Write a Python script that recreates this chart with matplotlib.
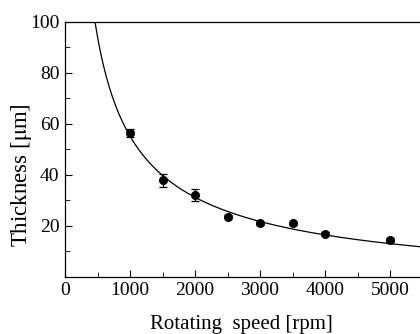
import numpy as np
import matplotlib
matplotlib.use("Agg")
import matplotlib.pyplot as plt
from matplotlib.ticker import MultipleLocator

plt.rcParams['font.family'] = ['Liberation Serif', 'DejaVu Serif']
plt.rcParams['mathtext.fontset'] = 'stix'

# measured data
speed_rpm = [1000, 1500, 2000, 2500, 3000, 3500, 4000, 5000]
thickness_um = [56.5, 37.8, 32.1, 23.6, 21.0, 20.9, 16.8, 14.4]
thickness_err = [1.5, 2.7, 2.5, 0.6, 0.6, 0.6, 0.6, 0.6]

# fitted curve parameters: y = A * x^(-b) + c
fit_A = 7863.0
fit_b = 0.7
fit_c = -7.26

fig = plt.figure(figsize=(4.2, 3.34), dpi=100)
ax = fig.add_axes([65/420, (334-276.7)/334, 357.5/420, (276.7-22)/334])

xf = np.linspace(300, 5600, 600)
ax.plot(xf, fit_A * xf**(-fit_b) + fit_c, color='black', lw=0.9)
ax.errorbar(speed_rpm, thickness_um, yerr=thickness_err, fmt='o', color='black',
            ms=5.5, capsize=2.8, elinewidth=0.9, capthick=0.9)

ax.set_xlim(0, 5500)
ax.set_ylim(0, 100)
ax.xaxis.set_major_locator(MultipleLocator(1000))
ax.xaxis.set_minor_locator(MultipleLocator(500))
ax.yaxis.set_minor_locator(MultipleLocator(10))
ax.set_yticks([20, 40, 60, 80, 100])
ax.set_yticklabels(['20', '40', '60', '80', '100'])
ax.tick_params(which='both', direction='in', top=False, right=False, labelsize=14, pad=4)
ax.tick_params(which='major', length=5)
ax.tick_params(which='minor', length=3.5)
for s in ax.spines.values():
    s.set_linewidth(0.9)
ax.spines['right'].set_visible(False)

ax.set_xlabel('Rotating  speed [rpm]', fontsize=15)
ax.xaxis.set_label_coords(0.494, -0.15)
ax.set_ylabel('Thickness [$\\mathrm{\\mu}$m]', fontsize=16.5)
ax.yaxis.set_label_coords(-0.088, 0.40)

fig.savefig('out.png', dpi=100)
